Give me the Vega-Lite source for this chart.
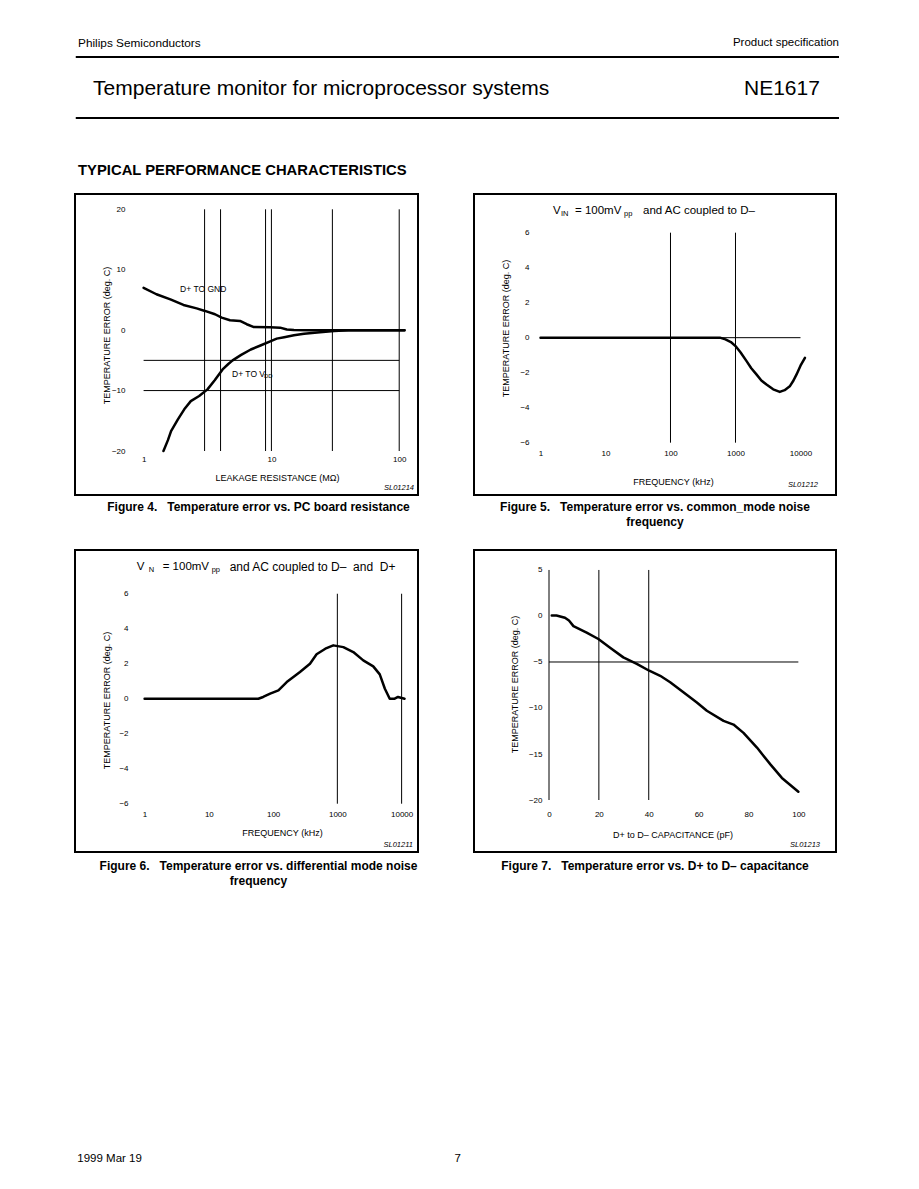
{
  "$schema": "https://vega.github.io/schema/vega-lite/v6.json",
  "background": "white",
  "padding": {"left": 74, "top": 35, "right": 0, "bottom": 0},
  "autosize": {"type": "pad"},
  "data": {"values": [{}]},
  "config": {
    "font": "Liberation Sans",
    "view": {"stroke": "black", "strokeWidth": 2},
    "axis": {"domain": false, "ticks": false, "grid": false, "labelFontSize": 8, "titleFontSize": 9, "titleFontWeight": "normal", "labelColor": "black", "titleColor": "black", "labelFont": "Liberation Sans", "titleFont": "Liberation Sans", "labelFlush": false, "labelOverlap": false, "labelPadding": 0},
    "text": {"color": "black", "font": "Liberation Sans"},
    "title": {"font": "Liberation Sans", "color": "black"}
  },
  "datasets": {
    "fig4": [
      {"series": "D+ TO GND", "x": 1, "y": 7.0}, {"series": "D+ TO GND", "x": 1.26, "y": 5.94}, {"series": "D+ TO GND", "x": 1.62, "y": 5.1}, {"series": "D+ TO GND", "x": 2.05, "y": 4.17}, {"series": "D+ TO GND", "x": 2.6, "y": 3.6}, {"series": "D+ TO GND", "x": 3.02, "y": 3.18}, {"series": "D+ TO GND", "x": 3.62, "y": 2.63}, {"series": "D+ TO GND", "x": 4.08, "y": 2.07}, {"series": "D+ TO GND", "x": 4.74, "y": 1.64}, {"series": "D+ TO GND", "x": 5.68, "y": 1.52}, {"series": "D+ TO GND", "x": 6.41, "y": 0.98}, {"series": "D+ TO GND", "x": 7.22, "y": 0.53}, {"series": "D+ TO GND", "x": 9.75, "y": 0.48}, {"series": "D+ TO GND", "x": 11.7, "y": 0.41}, {"series": "D+ TO GND", "x": 13.2, "y": 0.1}, {"series": "D+ TO GND", "x": 15, "y": 0.02}, {"series": "D+ TO GND", "x": 20, "y": 0}, {"series": "D+ TO GND", "x": 40, "y": 0}, {"series": "D+ TO GND", "x": 110, "y": 0},
      {"series": "D+ TO VDD", "x": 1.43, "y": -20}, {"series": "D+ TO VDD", "x": 1.55, "y": -18.2}, {"series": "D+ TO VDD", "x": 1.64, "y": -16.7}, {"series": "D+ TO VDD", "x": 1.85, "y": -14.8}, {"series": "D+ TO VDD", "x": 2.08, "y": -13.1}, {"series": "D+ TO VDD", "x": 2.34, "y": -11.75}, {"series": "D+ TO VDD", "x": 2.72, "y": -10.9}, {"series": "D+ TO VDD", "x": 3.16, "y": -9.8}, {"series": "D+ TO VDD", "x": 3.6, "y": -8.3}, {"series": "D+ TO VDD", "x": 4.15, "y": -6.5}, {"series": "D+ TO VDD", "x": 4.6, "y": -5.6}, {"series": "D+ TO VDD", "x": 4.97, "y": -5.0}, {"series": "D+ TO VDD", "x": 5.8, "y": -4.1}, {"series": "D+ TO VDD", "x": 6.9, "y": -3.2}, {"series": "D+ TO VDD", "x": 8.3, "y": -2.5}, {"series": "D+ TO VDD", "x": 9.9, "y": -1.8}, {"series": "D+ TO VDD", "x": 11, "y": -1.4}, {"series": "D+ TO VDD", "x": 12.6, "y": -1.16}, {"series": "D+ TO VDD", "x": 15, "y": -0.85}, {"series": "D+ TO VDD", "x": 18, "y": -0.6}, {"series": "D+ TO VDD", "x": 24, "y": -0.35}, {"series": "D+ TO VDD", "x": 31, "y": -0.15}, {"series": "D+ TO VDD", "x": 40, "y": 0}, {"series": "D+ TO VDD", "x": 110, "y": 0}
    ],
    "fig4v": [{"x": 3}, {"x": 4}, {"x": 9}, {"x": 10}, {"x": 30}, {"x": 100}],
    "fig4h": [{"y": -5}, {"y": -10}],
    "fig5": [
      {"x": 1, "y": 0}, {"x": 10, "y": 0}, {"x": 100, "y": 0}, {"x": 575, "y": 0}, {"x": 700, "y": -0.1}, {"x": 850, "y": -0.25}, {"x": 1000, "y": -0.48}, {"x": 1200, "y": -0.85}, {"x": 1480, "y": -1.34}, {"x": 1750, "y": -1.75}, {"x": 2100, "y": -2.1}, {"x": 2500, "y": -2.45}, {"x": 3000, "y": -2.68}, {"x": 3800, "y": -2.95}, {"x": 4800, "y": -3.1}, {"x": 5700, "y": -3.0}, {"x": 6840, "y": -2.78}, {"x": 7800, "y": -2.45}, {"x": 8700, "y": -2.1}, {"x": 10000, "y": -1.6}, {"x": 11700, "y": -1.15}
    ],
    "fig5v": [{"x": 100}, {"x": 1000}],
    "fig5h": [{"y": 0}],
    "fig6": [
      {"x": 1, "y": 0}, {"x": 10, "y": 0}, {"x": 59, "y": 0}, {"x": 70, "y": 0.1}, {"x": 90, "y": 0.29}, {"x": 121, "y": 0.48}, {"x": 163, "y": 0.95}, {"x": 262, "y": 1.53}, {"x": 375, "y": 2.0}, {"x": 475, "y": 2.54}, {"x": 650, "y": 2.86}, {"x": 865, "y": 3.05}, {"x": 1240, "y": 2.95}, {"x": 1770, "y": 2.67}, {"x": 2530, "y": 2.19}, {"x": 3620, "y": 1.85}, {"x": 4570, "y": 1.39}, {"x": 5490, "y": 0.57}, {"x": 6530, "y": 0}, {"x": 7800, "y": 0}, {"x": 8800, "y": 0.1}, {"x": 11100, "y": 0}
    ],
    "fig6v": [{"x": 1000}, {"x": 10000}],
    "fig7": [
      {"x": 1.1, "y": 0.05}, {"x": 3, "y": 0.05}, {"x": 6.4, "y": -0.2}, {"x": 8, "y": -0.5}, {"x": 9.8, "y": -1.1}, {"x": 15.1, "y": -1.8}, {"x": 19.8, "y": -2.5}, {"x": 24.5, "y": -3.45}, {"x": 29.8, "y": -4.5}, {"x": 35.2, "y": -5.2}, {"x": 40.2, "y": -5.95}, {"x": 44.6, "y": -6.5}, {"x": 48.6, "y": -7.2}, {"x": 53.9, "y": -8.3}, {"x": 59.3, "y": -9.4}, {"x": 63.3, "y": -10.3}, {"x": 70, "y": -11.4}, {"x": 74, "y": -11.8}, {"x": 78, "y": -12.7}, {"x": 83.4, "y": -14.3}, {"x": 88.7, "y": -16.1}, {"x": 93.4, "y": -17.6}, {"x": 100, "y": -19.1}
    ],
    "fig7v": [{"x": 0}, {"x": 20}, {"x": 40}],
    "fig7h": [{"y": -5}]
  },
  "spacing": 13,
  "align": "none",
  "vconcat": [
    {
      "width": 764, "height": 145,
      "view": {"stroke": null},
      "layer": [
        {"mark": {"type": "text", "align": "left", "baseline": "middle", "fontSize": 11.8},
         "encoding": {"x": {"datum": 0.004, "type": "quantitative", "scale": {"domain": [0, 1]}, "axis": null}, "y": {"datum": 0.058, "type": "quantitative", "scale": {"domain": [0, 1], "reverse": true}, "axis": null}, "text": {"value": "Philips Semiconductors"}}},
        {"mark": {"type": "text", "align": "right", "baseline": "middle", "fontSize": 11.5},
         "encoding": {"x": {"datum": 1}, "y": {"datum": 0.058}, "text": {"value": "Product specification"}}},
        {"mark": {"type": "rule", "strokeWidth": 2, "color": "black"},
         "encoding": {"x": {"datum": 0.001}, "x2": {"datum": 1}, "y": {"datum": 0.1517}}},
        {"mark": {"type": "text", "align": "left", "baseline": "middle", "fontSize": 21},
         "encoding": {"x": {"datum": 0.0236}, "y": {"datum": 0.369}, "text": {"value": "Temperature monitor for microprocessor systems"}}},
        {"mark": {"type": "text", "align": "right", "baseline": "middle", "fontSize": 21},
         "encoding": {"x": {"datum": 0.975}, "y": {"datum": 0.369}, "text": {"value": "NE1617"}}},
        {"mark": {"type": "rule", "strokeWidth": 2, "color": "black"},
         "encoding": {"x": {"datum": 0.001}, "x2": {"datum": 1}, "y": {"datum": 0.5724}}},
        {"mark": {"type": "text", "align": "left", "baseline": "middle", "fontSize": 14.8, "fontWeight": "bold"},
         "encoding": {"x": {"datum": 0.004}, "y": {"datum": 0.935}, "text": {"value": "TYPICAL PERFORMANCE CHARACTERISTICS"}}}
      ]
    },
    {
      "spacing": 20,
      "align": "none",
      "vconcat": [
        {
          "hconcat": [
            {
              "width": 343, "height": 301,
              "title": {"text": "Figure 4.\u00a0\u00a0\u00a0Temperature error vs. PC board resistance", "orient": "bottom", "anchor": "middle", "dx": 12, "offset": 7, "baseline": "top", "fontSize": 12, "fontWeight": "bold", "lineHeight": 15},
              "layer": [
                {"data": {"name": "fig4"}, "mark": {"type": "line", "color": "black", "strokeWidth": 2.5, "strokeJoin": "round", "strokeCap": "round"},
                 "encoding": {
                   "x": {"field": "x", "type": "quantitative", "scale": {"type": "log", "domain": [0.2905, 140.3], "nice": false, "zero": false},
                         "axis": {"values": [1, 10, 100], "format": "d", "offset": -40, "labelBaseline": "top", "labelOverlap": false, "title": "LEAKAGE RESISTANCE (MΩ)", "titleX": 202, "titleY": 22, "titleBaseline": "middle", "titleAlign": "center"}},
                   "y": {"field": "y", "type": "quantitative", "scale": {"domain": [-27.28, 22.53], "nice": false, "zero": false},
                         "axis": {"values": [-20, -15, -10, -5, 0, 5, 10, 15, 20], "format": "d", "offset": -50, "labelOverlap": false, "labelSeparation": 0, "title": "TEMPERATURE ERROR (deg. C)", "titleX": -19, "titleY": 141, "titleBaseline": "middle", "titleAlign": "center", "titleAngle": 270}},
                   "detail": {"field": "series", "type": "nominal"}
                 }},
                {"data": {"name": "fig4v"}, "mark": {"type": "rule", "color": "black", "strokeWidth": 1},
                 "encoding": {"x": {"field": "x", "type": "quantitative"}, "y": {"datum": -20}, "y2": {"datum": 20}}},
                {"data": {"name": "fig4h"}, "mark": {"type": "rule", "color": "black", "strokeWidth": 1},
                 "encoding": {"y": {"field": "y", "type": "quantitative"}, "x": {"datum": 1}, "x2": {"datum": 100}}},
                {"mark": {"type": "text", "align": "left", "baseline": "middle", "fontSize": 8.5},
                 "encoding": {"x": {"datum": 1.93}, "y": {"datum": 6.82}, "text": {"value": "D+ TO GND"}}},
                {"mark": {"type": "text", "align": "left", "baseline": "middle", "fontSize": 8.5},
                 "encoding": {"x": {"datum": 4.92}, "y": {"datum": -7.25}, "text": {"value": "D+ TO V"}}},
                {"mark": {"type": "text", "align": "left", "baseline": "middle", "fontSize": 6, "dx": 32, "dy": 2},
                 "encoding": {"x": {"datum": 4.92}, "y": {"datum": -7.25}, "text": {"value": "DD"}}},
                {"mark": {"type": "text", "align": "right", "baseline": "middle", "fontSize": 7.5, "fontStyle": "italic"},
                 "encoding": {"x": {"datum": 130.6}, "y": {"datum": -26.13}, "text": {"value": "SL01214"}}}
              ]
            },
            {
              "width": 362, "height": 301,
              "title": {"text": ["Figure 5.\u00a0\u00a0\u00a0Temperature error vs. common_mode noise", "frequency"], "orient": "bottom", "anchor": "middle", "dx": 0, "offset": 7, "baseline": "top", "fontSize": 12, "fontWeight": "bold", "lineHeight": 15},
              "layer": [
                {"data": {"name": "fig5"}, "mark": {"type": "line", "color": "black", "strokeWidth": 2.5, "strokeJoin": "round", "strokeCap": "round"},
                 "encoding": {
                   "x": {"field": "x", "type": "quantitative", "scale": {"type": "log", "domain": [0.0948, 35180], "nice": false, "zero": false},
                         "axis": {"values": [1, 10, 100, 1000, 10000], "format": "d", "offset": -46, "labelBaseline": "top", "labelOverlap": false, "title": "FREQUENCY (kHz)", "titleX": 199, "titleY": 32, "titleBaseline": "middle", "titleAlign": "center"}},
                   "y": {"field": "y", "type": "quantitative", "scale": {"domain": [-8.99, 8.21], "nice": false, "zero": false},
                         "axis": {"values": [-6, -4, -2, 0, 2, 4, 6], "format": "d", "offset": -55, "labelOverlap": false, "title": "TEMPERATURE ERROR (deg. C)", "titleX": -24, "titleY": 134, "titleBaseline": "middle", "titleAlign": "center", "titleAngle": 270}}
                 }},
                {"data": {"name": "fig5v"}, "mark": {"type": "rule", "color": "black", "strokeWidth": 1},
                 "encoding": {"x": {"field": "x", "type": "quantitative"}, "y": {"datum": -6}, "y2": {"datum": 6}}},
                {"data": {"name": "fig5h"}, "mark": {"type": "rule", "color": "black", "strokeWidth": 1},
                 "encoding": {"y": {"field": "y", "type": "quantitative"}, "x": {"datum": 1}, "x2": {"datum": 10000}}},
                {"mark": {"type": "text", "align": "left", "baseline": "middle", "fontSize": 11.5},
                 "encoding": {"x": {"datum": 1.557}, "y": {"datum": 7.24}, "text": {"value": "V"}}},
                {"mark": {"type": "text", "align": "left", "baseline": "middle", "fontSize": 7.5, "dx": 8, "dy": 3},
                 "encoding": {"x": {"datum": 1.557}, "y": {"datum": 7.24}, "text": {"value": "IN"}}},
                {"mark": {"type": "text", "align": "left", "baseline": "middle", "fontSize": 11.5, "dx": 22},
                 "encoding": {"x": {"datum": 1.557}, "y": {"datum": 7.24}, "text": {"value": "= 100mV"}}},
                {"mark": {"type": "text", "align": "left", "baseline": "middle", "fontSize": 7.5, "dx": 71, "dy": 3},
                 "encoding": {"x": {"datum": 1.557}, "y": {"datum": 7.24}, "text": {"value": "pp"}}},
                {"mark": {"type": "text", "align": "left", "baseline": "middle", "fontSize": 11.5, "dx": 90},
                 "encoding": {"x": {"datum": 1.557}, "y": {"datum": 7.24}, "text": {"value": "and AC coupled to D–"}}},
                {"mark": {"type": "text", "align": "right", "baseline": "middle", "fontSize": 7.5, "fontStyle": "italic"},
                 "encoding": {"x": {"datum": 18580}, "y": {"datum": -8.42}, "text": {"value": "SL01212"}}}
              ]
            }
          ],
          "spacing": 54,
          "align": "none"
        },
        {
          "hconcat": [
            {
              "width": 343, "height": 302,
              "title": {"text": ["Figure 6.\u00a0\u00a0\u00a0Temperature error vs. differential mode noise", "frequency"], "orient": "bottom", "anchor": "middle", "dx": 12, "offset": 9, "baseline": "top", "fontSize": 12, "fontWeight": "bold", "lineHeight": 15},
              "layer": [
                {"data": {"name": "fig6"}, "mark": {"type": "line", "color": "black", "strokeWidth": 2.5, "strokeJoin": "round", "strokeCap": "round"},
                 "encoding": {
                   "x": {"field": "x", "type": "quantitative", "scale": {"type": "log", "domain": [0.0826, 17990], "nice": false, "zero": false},
                         "axis": {"values": [1, 10, 100, 1000, 10000], "format": "d", "offset": -42, "labelBaseline": "top", "labelOverlap": false, "title": "FREQUENCY (kHz)", "titleX": 207, "titleY": 22, "titleBaseline": "middle", "titleAlign": "center"}},
                   "y": {"field": "y", "type": "quantitative", "scale": {"domain": [-8.76, 8.5], "nice": false, "zero": false},
                         "axis": {"values": [-6, -4, -2, 0, 2, 4, 6], "format": "d", "offset": -53, "labelOverlap": false, "title": "TEMPERATURE ERROR (deg. C)", "titleX": -22, "titleY": 150, "titleBaseline": "middle", "titleAlign": "center", "titleAngle": 270}}
                 }},
                {"data": {"name": "fig6v"}, "mark": {"type": "rule", "color": "black", "strokeWidth": 1},
                 "encoding": {"x": {"field": "x", "type": "quantitative"}, "y": {"datum": -6}, "y2": {"datum": 6}}},
                {"mark": {"type": "text", "align": "left", "baseline": "middle", "fontSize": 11.5},
                 "encoding": {"x": {"datum": 0.753}, "y": {"datum": 7.53}, "text": {"value": "V"}}},
                {"mark": {"type": "text", "align": "left", "baseline": "middle", "fontSize": 7.5, "dx": 12, "dy": 3},
                 "encoding": {"x": {"datum": 0.753}, "y": {"datum": 7.53}, "text": {"value": "N"}}},
                {"mark": {"type": "text", "align": "left", "baseline": "middle", "fontSize": 11.5, "dx": 26},
                 "encoding": {"x": {"datum": 0.753}, "y": {"datum": 7.53}, "text": {"value": "= 100mV"}}},
                {"mark": {"type": "text", "align": "left", "baseline": "middle", "fontSize": 7.5, "dx": 75, "dy": 3},
                 "encoding": {"x": {"datum": 0.753}, "y": {"datum": 7.53}, "text": {"value": "pp"}}},
                {"mark": {"type": "text", "align": "left", "baseline": "middle", "fontSize": 12, "dx": 93},
                 "encoding": {"x": {"datum": 0.753}, "y": {"datum": 7.53}, "text": {"value": "and AC coupled to D–\u00a0\u00a0and\u00a0\u00a0D+"}}},
                {"mark": {"type": "text", "align": "right", "baseline": "middle", "fontSize": 7.5, "fontStyle": "italic"},
                 "encoding": {"x": {"datum": 15040}, "y": {"datum": -8.36}, "text": {"value": "SL01211"}}}
              ]
            },
            {
              "width": 362, "height": 302,
              "title": {"text": "Figure 7.\u00a0\u00a0\u00a0Temperature error vs. D+ to D– capacitance", "orient": "bottom", "anchor": "middle", "dx": 0, "offset": 9, "baseline": "top", "fontSize": 12, "fontWeight": "bold", "lineHeight": 15},
              "layer": [
                {"data": {"name": "fig7"}, "mark": {"type": "line", "color": "black", "strokeWidth": 2.5, "strokeJoin": "round", "strokeCap": "round"},
                 "encoding": {
                   "x": {"field": "x", "type": "quantitative", "scale": {"domain": [-30.08, 115.1], "nice": false, "zero": false},
                         "axis": {"values": [0, 20, 40, 60, 80, 100], "format": "d", "offset": -42, "labelBaseline": "top", "labelOverlap": false, "title": "D+ to D– CAPACITANCE (pF)", "titleX": 198.5, "titleY": 24, "titleBaseline": "middle", "titleAlign": "center"}},
                   "y": {"field": "y", "type": "quantitative", "scale": {"domain": [-25.65, 7.17], "nice": false, "zero": false},
                         "axis": {"values": [5, 0, -5, -10, -15, -20], "format": "d", "offset": -68, "labelOverlap": false, "title": "TEMPERATURE ERROR (deg. C)", "titleX": -28, "titleY": 134, "titleBaseline": "middle", "titleAlign": "center", "titleAngle": 270}}
                 }},
                {"data": {"name": "fig7v"}, "mark": {"type": "rule", "color": "black", "strokeWidth": 1},
                 "encoding": {"x": {"field": "x", "type": "quantitative"}, "y": {"datum": -20}, "y2": {"datum": 5}}},
                {"data": {"name": "fig7h"}, "mark": {"type": "rule", "color": "black", "strokeWidth": 1},
                 "encoding": {"y": {"field": "y", "type": "quantitative"}, "x": {"datum": 0}, "x2": {"datum": 100}}},
                {"mark": {"type": "text", "align": "right", "baseline": "middle", "fontSize": 7.5, "fontStyle": "italic"},
                 "encoding": {"x": {"datum": 108.7}, "y": {"datum": -24.9}, "text": {"value": "SL01213"}}}
              ]
            }
          ],
          "spacing": 54,
          "align": "none"
        }
      ]
    },
    {
      "width": 764, "height": 266,
      "view": {"stroke": null},
      "layer": [
        {"mark": {"type": "text", "align": "left", "baseline": "middle", "fontSize": 11.5},
         "encoding": {"x": {"datum": 0.003, "type": "quantitative", "scale": {"domain": [0, 1]}, "axis": null}, "y": {"datum": 0.97, "type": "quantitative", "scale": {"domain": [0, 1], "reverse": true}, "axis": null}, "text": {"value": "1999 Mar 19"}}},
        {"mark": {"type": "text", "align": "center", "baseline": "middle", "fontSize": 11.5},
         "encoding": {"x": {"datum": 0.501}, "y": {"datum": 0.97}, "text": {"value": "7"}}}
      ]
    }
  ]
}
